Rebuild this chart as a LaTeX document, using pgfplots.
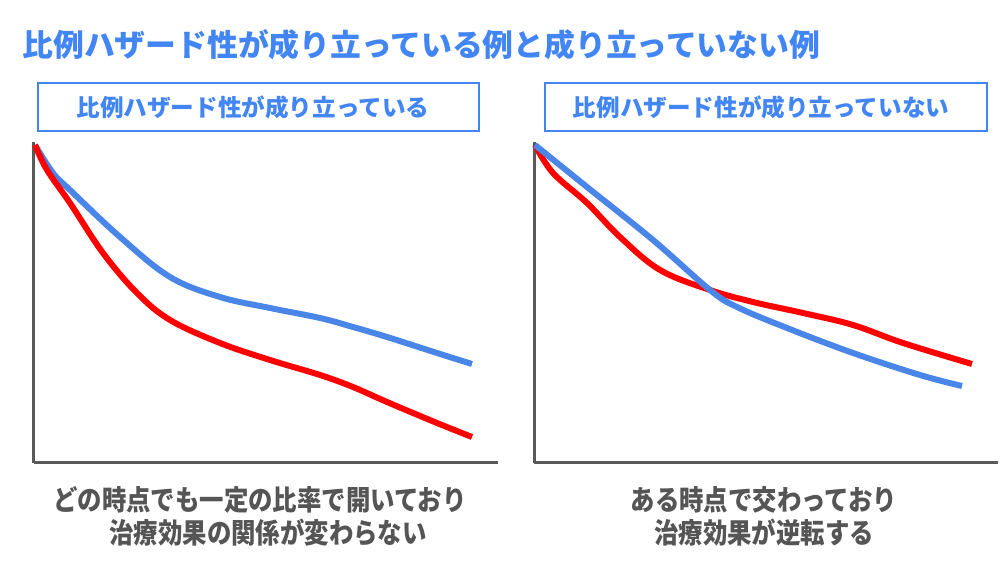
\documentclass[border=0pt]{standalone}
\usepackage{fontspec}
\setmainfont{Noto Sans CJK JP}
\usepackage{graphicx}
\usepackage{pgfplots}
\pgfplotsset{compat=1.18}
\definecolor{tblue}{RGB}{66,133,244}
\definecolor{cblue}{RGB}{74,134,232}
\definecolor{cred}{RGB}{255,0,0}
\definecolor{axgray}{RGB}{90,90,90}
\definecolor{txgray}{RGB}{85,85,85}
\pgfplotsset{
  panel/.style={
    scale only axis, width=232pt, height=160.5pt,
    xmin=0, xmax=464, ymin=0, ymax=321,
    axis lines=left, axis line style={draw=axgray, line width=1.5pt, -},
    xtick=\empty, ytick=\empty, clip=false,
  },
  curve/.style={line width=3pt, smooth, tension=0.6, no markers},
}
\begin{document}
\begin{tikzpicture}[x=0.5pt,y=0.5pt]
\path[use as bounding box, fill=white] (0,0) rectangle (1000,562);
% title
\node[anchor=west, text=tblue, font=\fontsize{15.4}{18}\selectfont\bfseries, inner sep=0pt] at (22,517) {比例ハザード性が成り立っている例と成り立っていない例};
% boxes
\draw[tblue, line width=0.8pt] (38,431) rectangle (479,479);
\draw[tblue, line width=0.8pt] (545,431) rectangle (987,479);
\node[text=tblue, font=\fontsize{11.8}{14}\selectfont\bfseries, inner sep=0pt] at (253,455) {比例ハザード性が成り立っている};
\node[text=tblue, font=\fontsize{11.8}{14}\selectfont\bfseries, inner sep=0pt] at (761,455) {比例ハザード性が成り立っていない};
% left panel
\begin{axis}[panel, at={(34,99)}, anchor=south west]
\addplot[curve, cblue] coordinates {(1,318) (19,290) (36,273) (86,226) (136,186) (186,166) (236,155) (286,145) (319,136) (353,126) (403,110) (438,99)};
\addplot[curve, cred] coordinates {(1,318) (13,293) (36,260) (69,210) (103,170) (136,143) (186,120) (236,103) (286,88) (319,76) (353,61) (403,40) (438,26)};
\end{axis}
% right panel
\begin{axis}[panel, at={(534,99)}, anchor=south west]
\addplot[curve, cred] coordinates {(1,318) (19,290) (53,260) (86,226) (126,193) (176,173) (219,161) (269,150) (319,138) (369,120) (438,99)};
\addplot[curve, cblue] coordinates {(1,318) (53,276) (119,223) (176,173) (203,156) (253,135) (319,110) (386,88) (428,77)};
\end{axis}
% bottom notes
\node[text=txgray, font=\fontsize{12.2}{14}\selectfont\bfseries, inner sep=0pt] at (260,62) {\scalebox{1}[1.15]{どの時点でも一定の比率で開いており}};
\node[text=txgray, font=\fontsize{12.2}{14}\selectfont\bfseries, inner sep=0pt] at (268,29) {\scalebox{1}[1.15]{治療効果の関係が変わらない}};
\node[text=txgray, font=\fontsize{12.2}{14}\selectfont\bfseries, inner sep=0pt] at (764,62) {\scalebox{1}[1.15]{ある時点で交わっており}};
\node[text=txgray, font=\fontsize{12.2}{14}\selectfont\bfseries, inner sep=0pt] at (764,29) {\scalebox{1}[1.15]{治療効果が逆転する}};
\end{tikzpicture}
\end{document}
